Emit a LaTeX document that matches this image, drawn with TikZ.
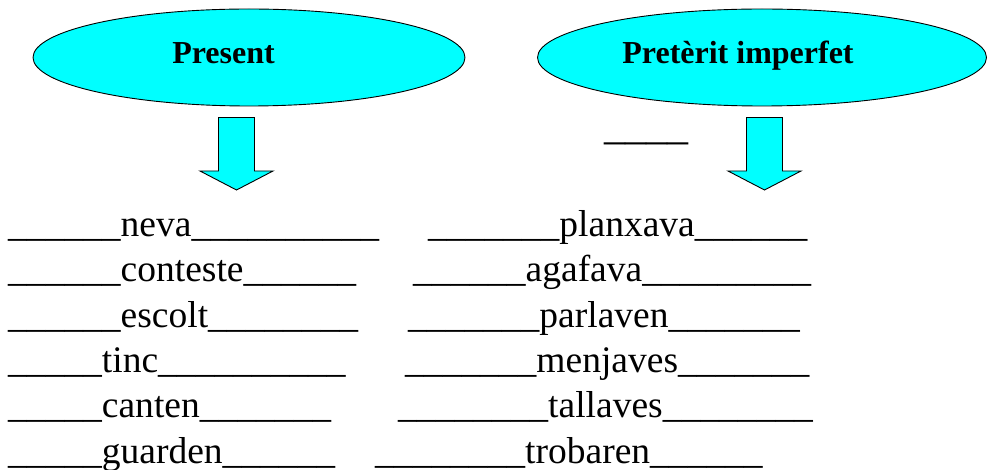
\documentclass[tikz,border=0pt]{standalone}
\usepackage{fontspec}
\setmainfont{Liberation Serif}
\usetikzlibrary{shapes.geometric}
\definecolor{aqua}{HTML}{00FFFF}
\tikzset{
  tense/.style={ellipse, draw=black, line width=0.9pt, fill=aqua, inner sep=0pt},
  tensename/.style={anchor=base, inner sep=0pt, font=\fontsize{32}{38}\selectfont\bfseries},
  arrowbox/.style={draw=black, line width=0.9pt, fill=aqua, line join=miter},
  verb/.style={anchor=base west, inner sep=0pt, font=\fontsize{37.5}{45}\selectfont}
}
\begin{document}
\begin{tikzpicture}[x=1pt, y=-1pt]
\useasboundingbox (0,0) rectangle (987,470);
% the two tenses
\node[tense, minimum width=432pt, minimum height=97pt] (present) at (249,57.5) {};
\node[tense, minimum width=449pt, minimum height=97pt] (imperfet) at (762,57.5) {};
\node[tensename] (presentname) at (223.5,64) {Present};
\node[tensename] (imperfetname) at (738,64) {Pretèrit imperfet};
% block arrows
\foreach \ax in {236.5, 764.5}
\draw[arrowbox, shift={(\ax,117.5)}] (-18,0) -- (18,0) -- (18,53.5)
 -- (36.5,53.5) -- (0,72.5) -- (-36.5,53.5) -- (-18,53.5) -- cycle;
\node[verb, font=\fontsize{42}{48}\selectfont] (blank) at (604,140) {\_\_\_\_};
% the verbs
\foreach \y/\x/\txt/\nm in {236.5/8/\_\_\_\_\_\_neva\_\_\_\_\_\_\_\_\_\_/neva,
 281.8/8/\_\_\_\_\_\_conteste\_\_\_\_\_\_/conteste,
 327.1/8/\_\_\_\_\_\_escolt\_\_\_\_\_\_\_\_/escolt,
 372.4/8/\_\_\_\_\_tinc\_\_\_\_\_\_\_\_\_\_/tinc,
 417.7/8/\_\_\_\_\_canten\_\_\_\_\_\_\_/canten,
 463/8/\_\_\_\_\_guarden\_\_\_\_\_\_/guarden,
 236.5/428/\_\_\_\_\_\_\_planxava\_\_\_\_\_\_/planxava,
 281.8/413/\_\_\_\_\_\_agafava\_\_\_\_\_\_\_\_\_/agafava,
 327.1/408/\_\_\_\_\_\_\_parlaven\_\_\_\_\_\_\_/parlaven,
 372.4/405/\_\_\_\_\_\_\_menjaves\_\_\_\_\_\_\_/menjaves,
 417.7/398/\_\_\_\_\_\_\_\_tallaves\_\_\_\_\_\_\_\_/tallaves,
 463/375/\_\_\_\_\_\_\_\_trobaren\_\_\_\_\_\_/trobaren}
\node[verb] (\nm) at (\x,\y) {\txt};
\end{tikzpicture}
\end{document}
